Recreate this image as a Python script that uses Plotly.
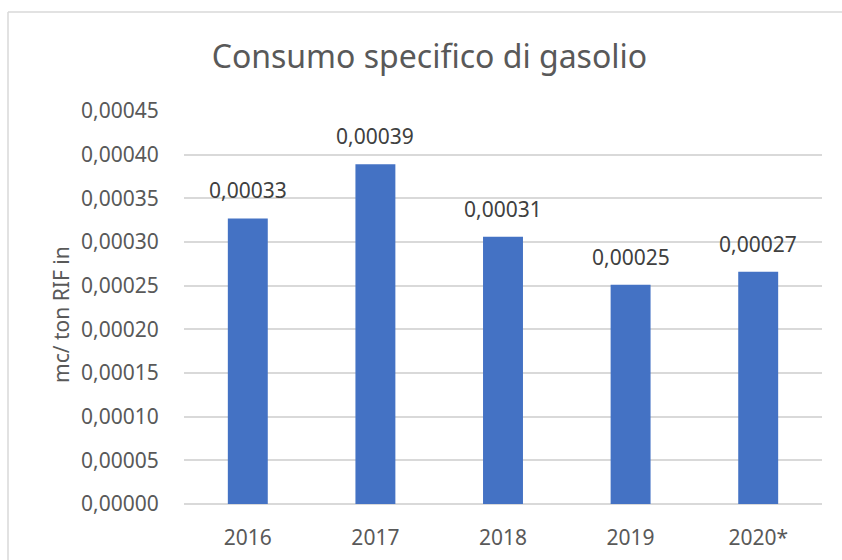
import plotly.graph_objects as go

# ---- data ----
years = ["2016", "2017", "2018", "2019", "2020*"]
consumo = [0.000327, 0.000389, 0.000306, 0.000251, 0.000266]
y_ticks = [0.0, 0.00005, 0.0001, 0.00015, 0.0002, 0.00025, 0.0003, 0.00035, 0.0004, 0.00045]

title_text = "Consumo specifico di gasolio"
y_title = "mc/ ton RIF in"

W, H = 842, 560
L, R, T, B = 184, 20, 111, 56
pw, ph = W - L - R, H - T - B

FONT = "Noto Sans"
TXT = "#595959"

fig = go.Figure()
fig.add_trace(go.Bar(
    x=years, y=consumo,
    marker=dict(color="#4472C4", line=dict(width=0)),
    hoverinfo="x+y",
))

labels = [f"{v:.5f}".replace(".", ",") for v in consumo]
for i, (yv, t) in enumerate(zip(consumo, labels)):
    fig.add_annotation(x=i, y=yv, xref="x", yref="y", text=t, showarrow=False,
                       yanchor="bottom", yshift=12,
                       font=dict(family=FONT, size=21, color="#404040"))

def px2x(px):
    return (px - L) / pw

def py2y(py):
    return (H - B - py) / ph

# y-axis title placed as rotated annotation
fig.add_annotation(x=px2x(61), y=py2y(315), xref="paper", yref="paper",
                   text=y_title, textangle=-90, showarrow=False,
                   xanchor="center", yanchor="middle",
                   font=dict(family=FONT, size=21, color=TXT))

# chart border (light gray frame partially visible)
fig.add_shape(type="line", xref="paper", yref="paper",
              x0=px2x(8), x1=px2x(850), y0=py2y(12), y1=py2y(12),
              line=dict(color="#D9D9D9", width=1.5))
fig.add_shape(type="line", xref="paper", yref="paper",
              x0=px2x(8), x1=px2x(8), y0=py2y(12), y1=py2y(570),
              line=dict(color="#D9D9D9", width=1.5))

fig.update_layout(
    width=W, height=H,
    margin=dict(l=L, r=R, t=T, b=B, autoexpand=False),
    paper_bgcolor="white", plot_bgcolor="white",
    separators=",.",
    bargap=0.687,
    showlegend=False,
    font=dict(family=FONT, color=TXT),
    title=dict(text=title_text, x=0.51, xanchor="center", y=1 - 57 / H, yanchor="middle",
               font=dict(family=FONT, size=32, color=TXT)),
    xaxis=dict(type="category", range=[-0.5, len(years) - 0.5],
               showgrid=False, showline=False, zeroline=False,
               tickfont=dict(family=FONT, size=21, color=TXT),
               ticks="outside", ticklen=15, tickcolor="rgba(0,0,0,0)"),
    yaxis=dict(range=[0, 0.00045], tickvals=y_ticks, tickformat=".5f",
               showgrid=True, gridcolor="#D9D9D9", gridwidth=1.5,
               zeroline=True, zerolinecolor="#D9D9D9", zerolinewidth=1.5,
               showline=False,
               tickfont=dict(family=FONT, size=21, color=TXT),
               ticks="outside", ticklen=20, tickcolor="rgba(0,0,0,0)",
               automargin=False),
)

fig.write_html("out.html", config={"displayModeBar": False},
               post_script="document.body.style.margin='0';document.body.style.overflow='hidden';")
